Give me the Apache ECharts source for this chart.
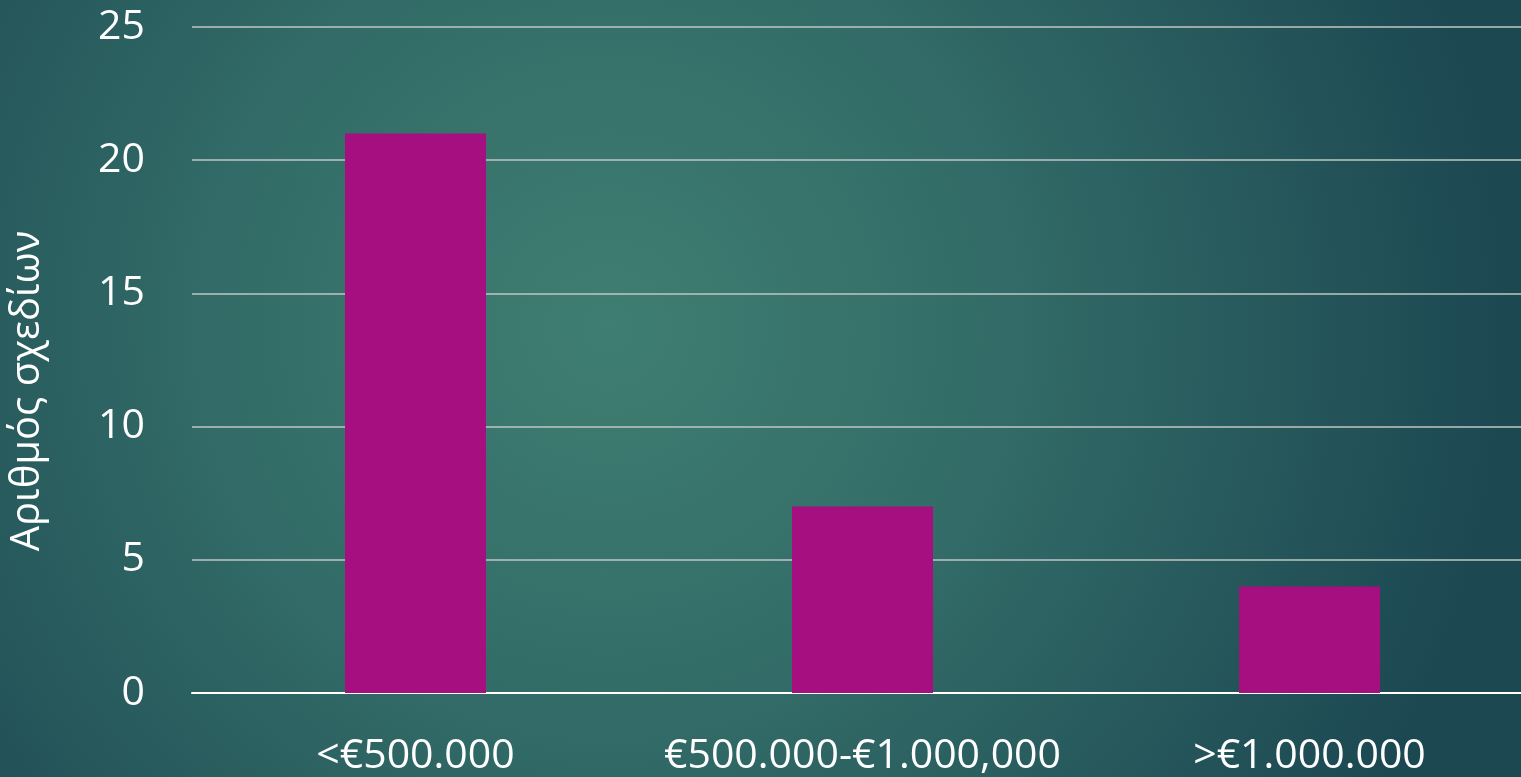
<!DOCTYPE html>
<html>
<head>
<meta charset="utf-8">
<script src="https://cdn.jsdelivr.net/npm/echarts@6/dist/echarts.min.js"></script>
<style>
  html, body { margin: 0; padding: 0; }
  #chart { width: 1521px; height: 777px; }
</style>
</head>
<body>
<div id="chart"></div>
<script>
// κατηγορίες και τιμές
var categories = ["<€500.000", "€500.000-€1.000,000", ">€1.000.000"];
var plans = [21, 7, 4];
var yTicks = [0, 5, 10, 15, 20, 25];

var font = "'Open Sans', 'Noto Sans', sans-serif";
var myChart = echarts.init(document.getElementById("chart"));
var option = {
  backgroundColor: {
    type: "radial",
    x: 0.4,
    y: 0.42,
    r: 1.15,
    colorStops: [
      { offset: 0, color: "#3f7e72" },
      { offset: 0.45, color: "#326b67" },
      { offset: 1, color: "#1c4852" }
    ]
  },
  // the plot runs a little past the right edge, like the original
  grid: {
    left: 192, width: 1341, top: 27, bottom: 84,
    containLabel: false, outerBoundsMode: "none"
  },
  xAxis: {
    type: "category",
    data: categories,
    axisTick: { show: false },
    axisLine: { lineStyle: { color: "#ffffff", width: 2 } },
    axisLabel: {
      color: "#ffffff", fontSize: 41, fontFamily: font, margin: 43,
      interval: 0, hideOverlap: false
    }
  },
  yAxis: {
    type: "value",
    min: yTicks[0],
    max: yTicks[yTicks.length - 1],
    interval: 5,
    name: "Αριθμός σχεδίων",
    nameLocation: "middle",
    nameRotate: 90,
    nameGap: 144,
    nameTextStyle: { color: "#ffffff", fontSize: 40, fontFamily: font, padding: [0, 62, 0, 0] },
    axisLine: { show: false },
    axisTick: { show: false },
    splitLine: { lineStyle: { color: "#c0c6c4", width: 1.5 } },
    axisLabel: { color: "#ffffff", fontSize: 41, fontFamily: font, margin: 47 }
  },
  series: [
    {
      type: "bar",
      data: plans,
      barWidth: 141,
      itemStyle: { color: "#a50f80" }
    }
  ]
};
myChart.setOption(option);
</script>
</body>
</html>
